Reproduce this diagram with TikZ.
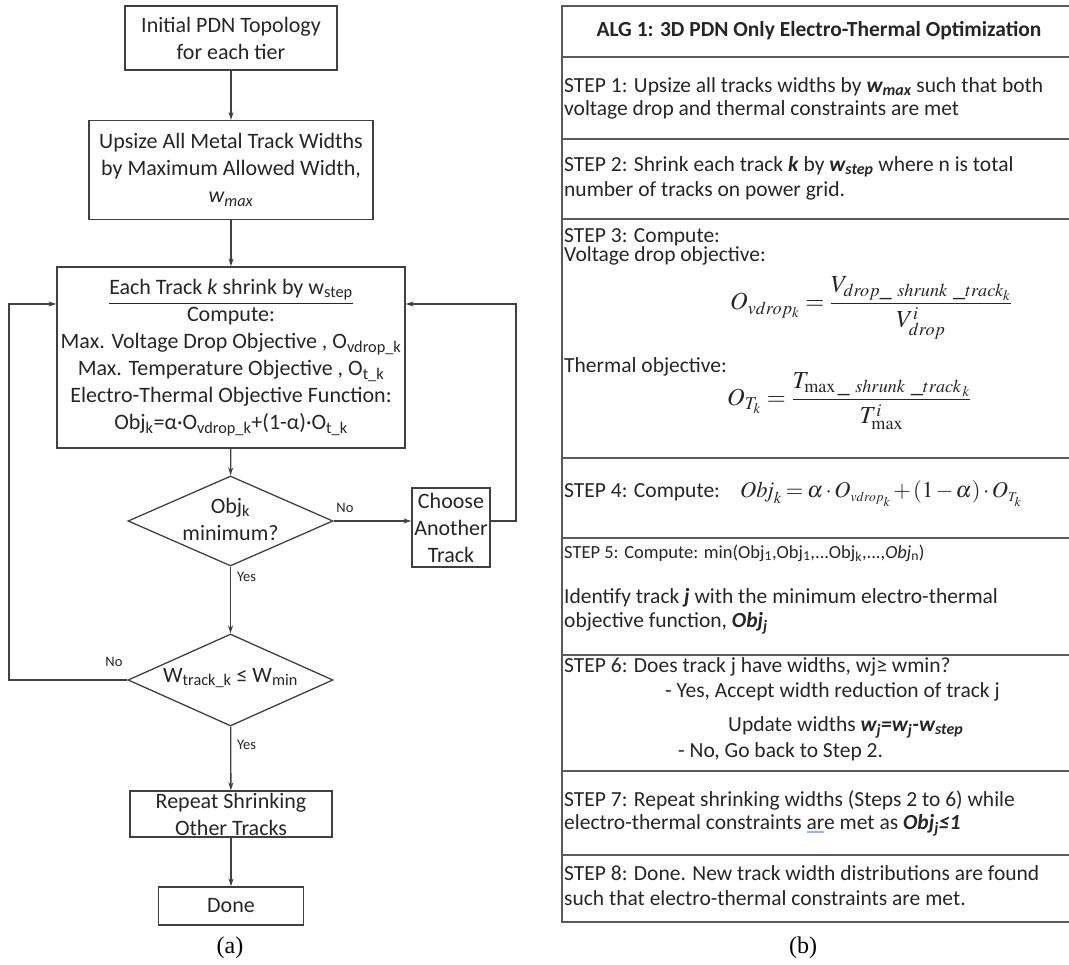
\documentclass[tikz,border=0pt]{standalone}
\usepackage{mathptmx}
\usepackage{fontspec}
\setmainfont{Carlito}
\newfontfamily\capfont{Liberation Serif}
\usetikzlibrary{shapes.geometric,arrows.meta}
\definecolor{lc}{RGB}{64,64,64}
\definecolor{tc}{RGB}{38,38,38}
\definecolor{tab}{RGB}{90,90,90}
\definecolor{hl}{RGB}{150,185,230}
\newcommand{\fcfont}{\fontsize{22}{27}\selectfont}
\newcommand{\tbfont}{\fontsize{21.5}{25}\selectfont}
\begin{document}
\begin{tikzpicture}[x=1pt,y=-1pt,
  box/.style={draw=lc, line width=1.3pt, inner sep=0pt, align=center, font=\fcfont, text=tc},
  dia/.style={diamond, draw=lc, line width=1.3pt, inner sep=0pt},
  dtext/.style={align=center, font=\fcfont, text=tc, inner sep=0pt},
  arr/.style={draw=lc, line width=1.3pt, -{Stealth[length=8pt,width=5pt]}},
  lbl/.style={font=\fontsize{14.5}{17}\selectfont, text=tc, inner sep=0pt},
  tl/.style={anchor=west, font=\tbfont, text=tc, inner sep=0pt},
  fml/.style={anchor=base west, text=tc, inner sep=0pt, font=\fontsize{24.5}{28}\selectfont},
  tline/.style={draw=tab, line width=1.3pt},
  figcap/.style={font=\capfont\fontsize{24}{28}\selectfont, text=black, inner sep=0pt}
]
\useasboundingbox (0,0) rectangle (1069,965);

% ---------------- (a) flowchart ----------------
\node[box, minimum width=212, minimum height=64] (init) at (231,38) {Initial PDN Topology\\for each tier};
\node[box, minimum width=284, minimum height=99] (upsize) at (231,170) {Upsize All Metal Track Widths\\by Maximum Allowed Width,\\\textit{w\textsubscript{max}}};
\node[box, minimum width=348, minimum height=181] (comp) at (231,357.5) {\underline{Each Track \textit{k} shrink by w\textsubscript{step}}\\Compute:\\Max. Voltage Drop Objective , O\textsubscript{vdrop\_k}\\Max. Temperature Objective , O\textsubscript{t\_k}\\Electro-Thermal Objective Function:\\Obj\textsubscript{k}=α·O\textsubscript{vdrop\_k}+(1-α)·O\textsubscript{t\_k}};
\node[dia, minimum width=205, minimum height=90] (d1) at (230.5,521) {};
\node[dtext] (d1t) at (230.5,519) {Obj\textsubscript{k}\\minimum?};
\node[box, minimum width=78, minimum height=79] (choose) at (451,527.5) {Choose\\Another\\Track};
\node[dia, minimum width=205, minimum height=92] (d2) at (230.5,680) {};
\node[dtext] (d2t) at (230.5,678) {W\textsubscript{track\_k} ≤ W\textsubscript{min}};
\node[box, minimum width=202, minimum height=46] (rep) at (231,814) {Repeat Shrinking\\Other Tracks};
\node[box, minimum width=145, minimum height=38] (done) at (231,906) {Done};

\node[lbl] (no1) at (345,508) {No};
\node[lbl, anchor=west] (yes1) at (237,577) {Yes};
\node[lbl] (no2) at (114,662) {No};
\node[lbl, anchor=west] (yes2) at (237,745) {Yes};

\coordinate (lc) at (9,304);
\coordinate (rc) at (516,304);

\draw[arr] (init) -- (upsize);
\draw[arr] (upsize) -- (comp);
\draw[arr] (comp) -- (d1);
\draw[arr] (d1.east) -- (d1.east -| choose.west);
\draw[arr] (d1) -- (d2);
\draw[arr] (d2) -- (rep);
\draw[arr] (rep) -- (done);
\draw[arr] (choose.east |- d1.east) -| (rc) -- (comp.east |- rc);
\draw[arr] (d2.west) -| (lc) -- (comp.west |- lc);

\node[figcap] (capa) at (230,948) {(a)};

% ---------------- (b) algorithm table ----------------
\draw[tline] (1069,6) -- (562,6) -- (562,922) -- (1069,922);
\foreach \yy in {57,139,219,458,538,655,771}
  \draw[tline] (562,\yy) -- (1069,\yy);
\draw[tline, line width=1.8pt] (562,855) -- (1069,855);

\node[font=\tbfont\bfseries, text=tc, inner sep=0pt] (hdr) at (819,31) {ALG 1: 3D PDN Only Electro-Thermal Optimization};

\node[tl] (s1a) at (564,87) {STEP 1: Upsize all tracks widths by \textbf{\textit{w\textsubscript{max}}} such that both};
\node[tl] (s1b) at (564,110) {voltage drop and thermal constraints are met};

\node[tl] (s2a) at (564,167) {STEP 2: Shrink each track \textbf{\textit{k}} by \textbf{\textit{w\textsubscript{step}}} where n is total};
\node[tl] (s2b) at (564,191) {number of tracks on power grid.};

\node[tl] (s3a) at (564,237) {STEP 3: Compute:};
\node[tl] (s3b) at (564,256) {Voltage drop objective:};
\node[fml] (f1) at (730,310) {$\displaystyle O_{vdrop_k} = \frac{V_{drop\_\ shrunk\ \_track_k}\rule[-4pt]{0pt}{4pt}}{\rule{0pt}{19pt}V^{i}_{drop}}$};
\node[tl] (s3c) at (564,367) {Thermal objective:};
\node[fml] (f2) at (727,406) {$\displaystyle O_{T_k} = \frac{T_{\max\_\ shrunk\ \_track_{\,k}}\rule[-6pt]{0pt}{6pt}}{\rule{0pt}{20pt}T^{i}_{\max}}$};

\node[tl] (s4a) at (564,492) {STEP 4: Compute:};
\node[fml, font=\fontsize{22.5}{26}\selectfont] (f3) at (740,498) {\medmuskip=2mu\thickmuskip=3mu$\mathit{Obj}_k = \alpha\cdot O_{\scriptscriptstyle vdrop_k} + (1-\alpha)\cdot O_{\scriptscriptstyle T_k}$};

\node[tl, font=\fontsize{18.5}{22}\selectfont] (s5a) at (564,553) {STEP 5: Compute: min(Obj\textsubscript{1},Obj\textsubscript{1},...Obj\textsubscript{k},...,\textit{Obj}\textsubscript{n})};
\node[tl] (s5b) at (564,598) {Identify track \textbf{\textit{j}} with the minimum electro-thermal};
\node[tl] (s5c) at (564,623) {objective function, \textbf{\textit{Obj\textsubscript{j}}}};

\node[tl] (s6a) at (564,667) {STEP 6: Does track j have widths, wj≥ wmin?};
\node[tl] (s6b) at (665,692) {- Yes, Accept width reduction of track j};
\node[tl] (s6c) at (728,727) {Update widths \textbf{\textit{w\textsubscript{j}=w\textsubscript{j}-w\textsubscript{step}}}};
\node[tl] (s6d) at (678,752) {- No, Go back to Step 2.};

\node[tl] (s7a) at (564,800) {STEP 7: Repeat shrinking widths (Steps 2 to 6) while};
\node[tl] (s7b) at (564,825) {electro-thermal constraints \rlap{\textcolor{hl}{\rule[-4pt]{0.8em}{2.5pt}}}are met as \textbf{\textit{Obj\textsubscript{j}≤1}}};

\node[tl] (s8a) at (564,873) {STEP 8: Done. New track width distributions are found};
\node[tl] (s8b) at (564,898) {such that electro-thermal constraints are met.};

\node[figcap] (capb) at (803,948) {(b)};
\end{tikzpicture}
\end{document}
